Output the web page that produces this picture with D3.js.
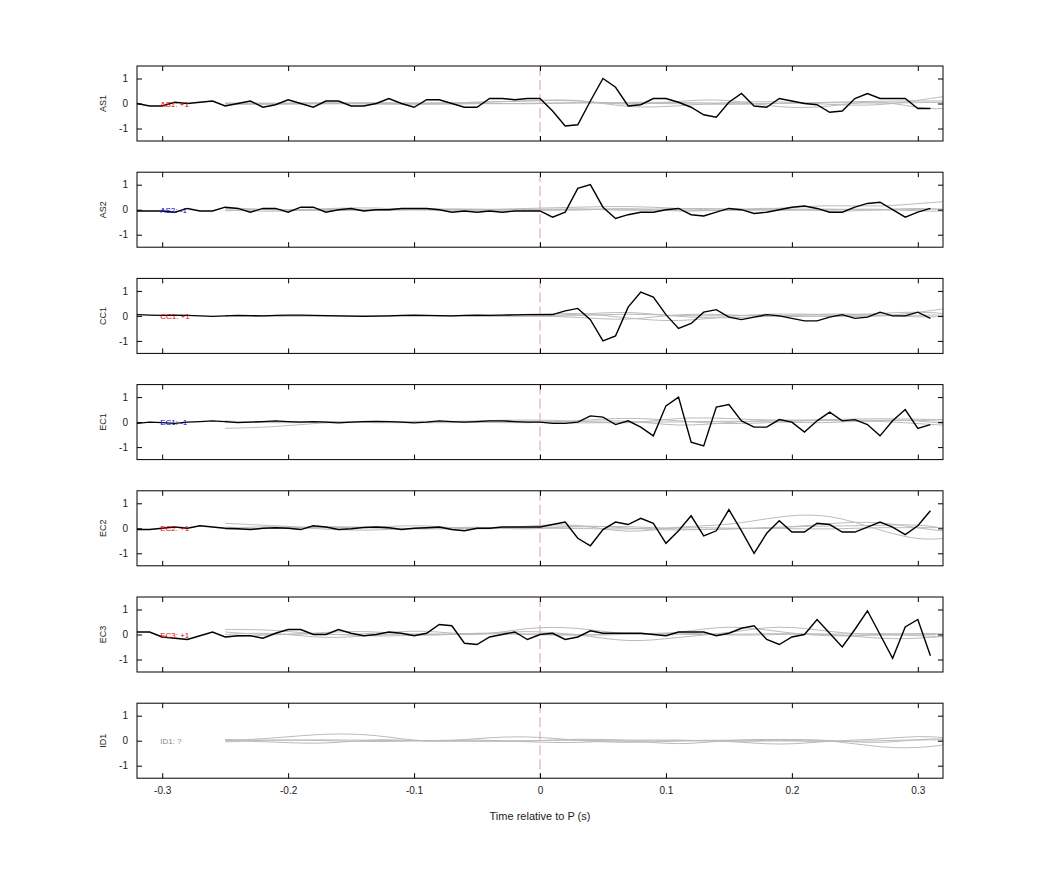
<!DOCTYPE html>
<html>
<head>
<meta charset="utf-8">
<script src="https://cdn.jsdelivr.net/npm/d3@7"></script>
<style>
body { margin: 0; background: #fff; }
text { font-family: "Liberation Sans", Arial, sans-serif; }
</style>
</head>
<body>
<svg id="chart" width="1042" height="875"></svg>
<script>
// stations, polarity labels
var stations = ["AS1", "AS2", "CC1", "EC1", "EC2", "EC3", "ID1"];
var polarities = ["+1", "-1", "+1", "-1", "+1", "+1", "?"];
var xTicks = [-0.3, -0.2, -0.1, 0, 0.1, 0.2, 0.3];
var yTicks = [-1, 0, 1];

// black traces, one sample every 0.01 s from -0.32 s to 0.31 s
var blackStart = -0.32, blackStep = 0.01;
var traceAS1 = [0, -0.1, -0.1, 0.05, 0, 0.05, 0.1, -0.1, 0, 0.1, -0.15, -0.05, 0.15, 0, -0.15, 0.1,
    0.1, -0.1, -0.1, 0, 0.2, 0, -0.15, 0.15, 0.15, 0, -0.15, -0.15, 0.2, 0.2, 0.15, 0.2,
    0.2, -0.3, -0.9, -0.85, 0.1, 1.0, 0.65, -0.1, -0.05, 0.2, 0.2, 0.05, -0.15, -0.45, -0.55, 0.05,
    0.4, -0.1, -0.15, 0.2, 0.1, 0, -0.05, -0.35, -0.3, 0.2, 0.4, 0.2, 0.2, 0.2, -0.2, -0.2];
var traceAS2 = [-0.05, -0.05, -0.05, -0.1, 0.05, -0.05, -0.05, 0.1, 0.05, -0.1, 0.05, 0.05, -0.1, 0.1, 0.1, -0.1,
    0, 0.05, -0.05, 0, 0, 0.05, 0.05, 0.05, 0, -0.1, -0.05, -0.1, -0.05, -0.1, -0.05, -0.05,
    -0.05, -0.3, -0.1, 0.85, 1.0, 0.1, -0.35, -0.2, -0.1, -0.1, 0, 0.05, -0.2, -0.25, -0.1, 0.05,
    0, -0.15, -0.1, 0, 0.1, 0.15, 0.05, -0.1, -0.1, 0.1, 0.25, 0.3, 0, -0.3, -0.1, 0.05];
var traceCC1 = [0.05, 0.03, 0.02, 0.03, 0.02, 0, -0.02, 0, 0.02, 0.01, 0, 0.02, 0.03, 0.03, 0.02, 0.01,
    0, -0.01, -0.02, -0.01, 0, 0.02, 0.03, 0.02, 0.01, 0, 0.02, 0.03, 0.02, 0.03, 0.04, 0.05,
    0.05, 0.05, 0.2, 0.3, -0.15, -1.0, -0.8, 0.35, 0.95, 0.75, 0.05, -0.5, -0.3, 0.15, 0.25, -0.05,
    -0.15, -0.05, 0.05, 0, -0.1, -0.2, -0.2, -0.05, 0.05, -0.1, -0.05, 0.15, 0, 0, 0.15, -0.1];
var traceEC1 = [-0.05, 0, -0.02, -0.05, 0, 0.02, 0.05, 0.02, -0.02, 0, 0.02, 0.05, 0.02, 0, 0.02, 0,
    -0.03, 0, 0.02, 0.03, 0.02, 0, -0.03, 0, 0.05, 0.02, 0, 0.02, 0.05, 0.05, 0.02, 0,
    0, -0.05, -0.05, 0, 0.25, 0.2, -0.1, 0.05, -0.2, -0.55, 0.65, 1.0, -0.8, -0.95, 0.6, 0.7,
    0.05, -0.2, -0.2, 0.1, 0, -0.4, 0.05, 0.4, 0.05, 0.1, -0.1, -0.55, 0.05, 0.5, -0.25, -0.1];
var traceEC2 = [-0.05, -0.05, 0, 0.05, 0, 0.1, 0.05, 0, -0.02, -0.05, 0, 0.02, 0, -0.05, 0.1, 0.05,
    -0.05, -0.02, 0.03, 0.05, 0.02, -0.05, 0, 0.02, 0.05, -0.05, -0.1, 0, 0, 0.05, 0.05, 0.05,
    0.05, 0.15, 0.25, -0.4, -0.7, -0.05, 0.25, 0.15, 0.4, 0.2, -0.6, -0.1, 0.5, -0.3, -0.1, 0.75,
    -0.1, -1.0, -0.2, 0.3, -0.15, -0.15, 0.2, 0.15, -0.15, -0.15, 0.05, 0.25, 0.05, -0.25, 0.1, 0.7];
var traceEC3 = [0.1, 0.1, -0.1, -0.15, -0.2, -0.05, 0.1, -0.1, -0.05, -0.05, -0.15, 0.05, 0.2, 0.2, 0, 0,
    0.2, 0.05, -0.05, 0, 0.1, 0.05, -0.05, 0.05, 0.4, 0.35, -0.35, -0.4, -0.1, 0, 0.1, -0.2,
    0, 0.05, -0.2, -0.1, 0.15, 0.05, 0.05, 0.05, 0.05, 0, -0.05, 0.1, 0.1, 0.1, -0.05, 0.05,
    0.25, 0.35, -0.2, -0.4, -0.1, 0, 0.6, 0.05, -0.5, 0.2, 0.95, 0, -0.95, 0.3, 0.6, -0.85];
var blackTraces = [traceAS1, traceAS2, traceCC1, traceEC1, traceEC2, traceEC3, null];

// grey comparison traces, one sample every 0.04 s from -0.25 s
var greyStart = -0.25, greyStep = 0.04;
var greyAS1 = [
    [-0.05, 0, 0.05, -0.05, 0, 0.05, 0.1, 0.2, -0.2, -0.1, 0.05, 0.1, -0.05, -0.1, 0.2, 0.5],
    [0, 0.02, -0.02, 0, 0.02, 0, -0.02, 0.02, 0.05, 0.05, 0, 0, 0.05, 0.1, 0.1, 0.1],
    [0.02, 0, 0.02, 0.05, 0, 0.05, 0.1, 0.15, -0.1, 0.1, 0.2, -0.2, -0.15, 0.2, -0.35, 0],
    [0, -0.05, 0, 0, -0.05, 0, 0, 0.05, 0, 0, -0.05, 0, 0.05, 0, 0.05, 0.05]];
var greyAS2 = [
    [0.1, -0.05, 0.05, 0.1, -0.05, 0, 0.05, 0.1, 0.15, 0.05, -0.05, 0.05, 0.2, 0.1, 0.3, 0.4],
    [-0.05, 0.05, -0.05, 0, 0.05, -0.05, 0, -0.05, 0.1, -0.1, 0, 0.1, -0.1, 0, 0.1, -0.2],
    [0, -0.1, 0.05, -0.05, 0, 0.05, -0.05, 0.05, 0, 0.05, 0.05, -0.05, 0, 0.05, -0.1, 0],
    [0.05, 0, -0.05, 0, 0.05, 0, 0, 0.05, -0.05, 0, -0.05, 0, 0.05, -0.05, 0.05, 0]];
var greyCC1 = [
    [0, 0.02, 0, -0.02, 0, 0.02, 0.05, 0.15, -0.1, -0.25, 0, 0.1, 0.05, -0.05, 0.2, 0.5],
    [0, 0, 0.02, 0, 0, -0.02, 0, 0.05, 0.2, -0.05, -0.1, 0, 0.1, 0.05, -0.1, 0.1],
    [0.02, 0, 0, 0.02, 0, 0, 0.02, -0.05, -0.2, 0.1, 0.05, -0.05, 0, 0.1, 0.2, -0.1],
    [0, -0.02, 0, 0, 0.02, 0, -0.02, 0, 0.1, 0, 0, 0.05, -0.05, 0, 0.05, 0]];
var greyEC1 = [
    [-0.25, -0.2, 0, 0.05, 0, 0.05, 0.1, 0.05, -0.1, 0.2, 0.15, 0.05, 0.1, 0.15, 0.1, 0.1],
    [0.05, -0.05, 0, 0.05, -0.05, 0, 0.05, 0, 0.1, -0.2, 0, 0.1, 0.05, 0.05, -0.1, -0.2],
    [0, 0.05, -0.05, 0, 0.05, 0, -0.05, 0.05, 0.2, 0.05, -0.1, 0, 0.1, 0.05, 0.1, -0.1],
    [0, 0, 0.05, -0.05, 0, 0, 0, -0.05, 0, 0, 0.05, 0, -0.05, 0.1, 0.05, -0.3]];
var greyEC2 = [
    [0.2, 0.1, 0, 0.05, 0.15, -0.1, 0.1, 0.2, -0.25, 0.1, 0.1, 0.5, 0.6, -0.1, -0.6, -0.1],
    [0.05, -0.05, 0.1, 0, -0.05, 0.1, -0.1, 0.15, 0, -0.1, 0, 0, 0.2, 0.3, -0.1, -0.2],
    [0, 0.1, -0.05, -0.1, 0.05, 0, 0.05, 0.05, 0.1, -0.05, -0.05, 0.05, 0.1, 0.1, 0.2, -0.4],
    [-0.05, 0, 0.05, 0.05, -0.05, 0, 0, 0, -0.05, 0.05, 0, 0, -0.05, 0.05, 0, 0.1]];
var greyEC3 = [
    [0.2, 0.2, -0.05, 0.05, 0.2, -0.1, 0.3, 0.3, -0.05, 0.05, 0.4, 0.1, -0.1, 0, -0.05, -0.2],
    [0.1, -0.05, 0.1, 0.15, -0.1, 0.1, 0, 0.05, -0.35, -0.1, 0.05, 0.4, 0.1, -0.05, 0.1, -0.1],
    [0, 0.1, -0.2, 0, 0.05, -0.05, 0.2, -0.05, 0, 0.1, -0.05, 0, 0.05, -0.2, -0.15, 0.1],
    [-0.1, 0, 0.05, -0.1, 0, 0.05, 0, -0.05, 0.05, 0, 0, 0.05, 0, 0.05, 0, -0.05]];
var greyID1 = [
    [0, 0.1, 0.3, 0.25, -0.1, 0.1, 0.2, 0, -0.1, 0, 0, -0.2, 0, 0.05, 0.25, -0.1],
    [-0.05, 0.05, 0, -0.05, 0, 0.05, -0.05, -0.1, 0.05, -0.2, 0.05, 0.05, 0.05, -0.3, -0.3, 0.1],
    [0, -0.05, -0.15, 0.1, -0.05, 0, -0.05, 0.1, 0, 0.05, -0.05, 0, 0.05, -0.15, 0.15, -0.05],
    [0.05, 0, 0.05, 0, 0.02, -0.03, 0, 0.03, -0.02, 0, 0.03, 0, -0.05, 0, 0.05, 0]];
var greyTraces = [greyAS1, greyAS2, greyCC1, greyEC1, greyEC2, greyEC3, greyID1];

var svg = d3.select("#chart");
var left = 137, right = 943, firstTop = 66, panelH = 75, panelGap = 106.2;

var x = d3.scaleLinear().domain([-0.32, 0.32]).range([left, right]);

function polarityColor(p) {
    if (p == "+1") return "#e00000";
    if (p == "-1") return "#0000cc";
    return "#888";
}

function toPoints(values, start, step) {
    return values.map(function(v, i) { return [start + i * step, v]; });
}

function hyphen(s) { return s.replace("\u2212", "-"); }

stations.forEach(function(name, k) {
    var top = firstTop + k * panelGap;
    var y = d3.scaleLinear().domain([-1.5, 1.5]).range([top + panelH, top]);
    var g = svg.append("g").attr("class", "panel panel-" + name);

    g.append("clipPath").attr("id", "clip-" + name)
        .append("rect").attr("x", left).attr("y", top).attr("width", right - left).attr("height", panelH);
    var plot = g.append("g").attr("clip-path", "url(#clip-" + name + ")");

    plot.append("line")
        .attr("x1", x(0)).attr("x2", x(0))
        .attr("y1", top).attr("y2", top + panelH)
        .attr("stroke", "#d9a0a0").attr("stroke-dasharray", "10,4");

    var smooth = d3.line()
        .x(function(d) { return x(d[0]); })
        .y(function(d) { return y(d[1]); })
        .curve(d3.curveBasis);
    greyTraces[k].forEach(function(series) {
        plot.append("path")
            .attr("d", smooth(toPoints(series, greyStart, greyStep)))
            .attr("fill", "none").attr("stroke", "#bbb").attr("stroke-width", 1);
    });

    if (blackTraces[k]) {
        var line = d3.line()
            .x(function(d) { return x(d[0]); })
            .y(function(d) { return y(d[1]); });
        plot.append("path")
            .attr("d", line(toPoints(blackTraces[k], blackStart, blackStep)))
            .attr("fill", "none").attr("stroke", "#000").attr("stroke-width", 1.4);
    }

    g.append("text")
        .attr("x", x(-0.3) - 2).attr("y", y(0) + 3)
        .attr("font-size", 8).attr("fill", polarityColor(polarities[k]))
        .text(name + ": " + polarities[k]);

    // axes with inward ticks on all four sides
    var yLeft = d3.axisLeft(y).tickValues(yTicks).tickSizeInner(-5).tickSizeOuter(0).tickPadding(9)
        .tickFormat(function(d) { return String(d); });
    var yRight = d3.axisRight(y).tickValues(yTicks).tickSizeInner(-5).tickSizeOuter(0).tickFormat("");
    var xBottom = d3.axisBottom(x).tickValues(xTicks).tickSizeInner(-5).tickSizeOuter(0).tickPadding(9)
        .tickFormat(function(d) { return d == 0 ? "0" : hyphen(d3.format(".1f")(d)); });
    var xTop = d3.axisTop(x).tickValues(xTicks).tickSizeInner(-5).tickSizeOuter(0).tickFormat("");

    g.append("g").attr("transform", "translate(" + left + ",0)").call(yLeft);
    g.append("g").attr("transform", "translate(" + right + ",0)").call(yRight);
    g.append("g").attr("transform", "translate(0," + top + ")").call(xTop);
    var xb = g.append("g").attr("transform", "translate(0," + (top + panelH) + ")").call(xBottom);
    if (k < stations.length - 1) xb.selectAll(".tick text").remove();

    g.append("rect")
        .attr("x", left).attr("y", top).attr("width", right - left).attr("height", panelH)
        .attr("fill", "none").attr("stroke", "#000").attr("stroke-width", 1);

    g.append("text")
        .attr("transform", "translate(106," + y(0) + ") rotate(-90)")
        .attr("text-anchor", "middle").attr("font-size", 9).attr("fill", "#222")
        .text(name);
});

svg.selectAll(".tick text").attr("font-size", 10).attr("fill", "#222")
    .attr("font-family", "Liberation Sans, Arial, sans-serif");
svg.selectAll(".domain").remove();

svg.append("text")
    .attr("x", x(0)).attr("y", 820)
    .attr("text-anchor", "middle").attr("font-size", 11).attr("fill", "#222")
    .text("Time relative to P (s)");
</script>
</body>
</html>
